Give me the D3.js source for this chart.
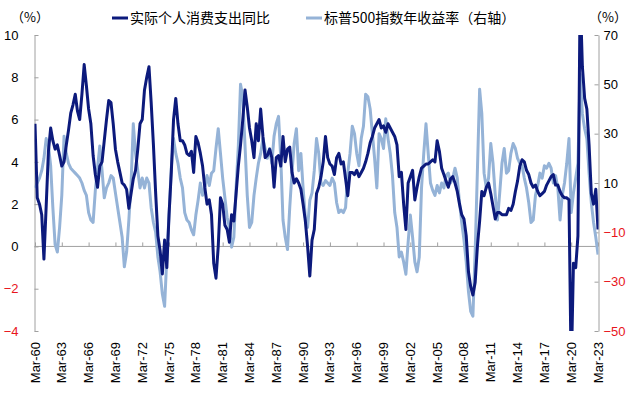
<!DOCTYPE html>
<html><head><meta charset="utf-8">
<script src="https://cdn.jsdelivr.net/npm/d3@7"></script>
<style>
html,body{margin:0;padding:0;background:#fff;}
svg{display:block;font-family:"Liberation Sans",Arial,"Noto Sans CJK SC",sans-serif;}
</style></head>
<body><svg id="c" width="640" height="393"></svg>
<script>
// Quarterly observations (Mar, Jun, Sep, Dec) from Mar-1960 to Mar-2023
const startYear = 1960;
const seriesNames = ["实际个人消费支出同比", "标普500指数年收益率（右轴）"];
// 实际个人消费支出同比 (%), left axis
const pce = [
 5.8,2.3,2.0,1.5, -0.6,1.9,4.5,5.6, 5.0,4.6,4.8,4.3, 3.8,4.0,4.8,5.5,
 6.3,6.7,7.2,6.4, 6.0,7.2,8.6,7.6, 6.5,5.8,4.3,3.4, 2.8,3.8,4.0,5.0,
 6.0,6.9,6.8,5.8, 4.6,4.0,3.5,3.0, 2.9,2.7,1.8,2.5, 3.2,3.6,4.6,5.8,
 6.0,7.4,8.0,8.5, 6.8,4.8,2.5,0.5, -0.2,-1.3,0.3,-1.0, 1.5,3.5,6.0,7.0,
 5.8,5.0,5.0,4.8, 4.4,4.3,4.5,3.5, 5.2,4.9,4.4,3.8, 2.8,2.0,2.2,1.5,
 -0.8,-1.5,0.0,2.3, 2.0,1.0,0.8,0.2, 1.5,1.2,2.5,3.8, 4.8,6.0,7.4,6.6,
 5.6,5.0,4.2,5.8, 5.0,6.5,5.2,4.2, 4.3,4.6,4.2,2.8, 4.2,4.3,3.8,5.2,
 4.0,4.6,4.7,3.5, 3.0,3.2,3.0,2.7, 2.0,1.2,0.0,-1.4, 0.3,0.8,2.5,2.8,
 3.3,4.0,5.2,4.2, 3.9,3.8,3.4,4.2, 4.4,3.9,4.0,3.2, 2.4,3.5,3.5,3.4,
 3.6,3.3,3.5,3.7, 4.0,4.4,4.9,5.2, 5.6,5.8,6.0,5.6, 5.7,5.4,5.8,5.6,
 5.4,5.2,4.8,3.3, 3.5,2.0,0.8,3.0, 3.3,3.6,2.2,2.8, 3.3,3.7,3.8,3.9,
 3.9,4.0,4.1,4.0, 5.0,4.5,3.7,3.4, 3.1,2.8,3.2,3.3, 3.0,2.6,2.0,1.5,
 1.3,0.5,-1.2,-1.9, -2.3,-1.7,0.0,1.2, 2.6,2.4,2.8,3.0, 2.5,1.9,1.3,1.6,
 1.6,1.5,1.5,1.5, 1.8,1.7,2.0,2.6, 3.1,3.8,4.1,4.0, 3.6,3.4,3.0,2.8,
 2.9,2.6,2.4,2.5, 2.6,2.9,3.1,3.3, 3.4,2.9,2.9,2.6, 2.4,2.3,2.3,2.2,
 -6.0,-0.8,-1.0,0.5, 12.0,8.5,7.0,6.5, 4.8,2.5,2.0,2.7, 0.8
];
// 标普500指数年收益率 (%), right axis
const spx = [
 8,10,12,15, 20,28,25,17, 0,-15,-18,-8, 5,29,22,18,
 16,15,14,13, 12,10,7,5, -2,-5,-6,7, 16,25,15,4,
 8,10,13,12, 6,0,-6,-12, -24,-18,-5,10, 34,22,15,8,
 12,8,12,10, 0,-6,-10,-20, -26,-35,-40,-20, -3,16,28,22,
 18,12,8,-2, -5,-6,-9,-11, -3,3,10,5, 8,13,9,14,
 15,24,32,22, 12,4,-4,-8, -16,-12,8,25, 50,45,25,5,
 -8,-6,5,12, 18,22,28,24, 20,24,18,29, 34,37,20,-5,
 -12,-17,0,14, 26,32,15,22, 8,-4,-8,3, 6,15,28,22,
 10,9,11,10, 9,12,10,2, -2,-1,-2,0, 14,22,33,30,
 22,17,28,33, 46,45,40,30, 20,8,30,28, 24,36,28,22,
 13,-2,-8,-20, -18,-22,-27,-14, -3,-12,-22,-26, -20,8,22,34,
 22,10,7,5, 9,6,10,8, 13,14,10,12, 16,12,2,-6,
 -13,-22,-34,-42, -44,-18,15,48, 38,14,8,12, 26,18,5,-5,
 6,18,24,14, 15,22,26,24, 20,18,17,12, 8,2,-6,-5,
 5,9,14,12, 17,16,18,16, 10,13,8,-5, 5,10,18,28,
 -2,6,12,18, 54,38,32,28, 14,2,-6,-12, -19
];
const leftTicks = [-4,-2,0,2,4,6,8,10];
const rightTicks = [-50,-30,-10,10,30,50,70];
const tickYears = d3.range(1960, 2024, 3);

const dates = pce.map((_, i) => new Date(startYear, 2 + 3 * i, 1));
const svg = d3.select("#c");
const L = 34.5, R = 598.5, T = 35, B = 331;

const x = d3.scaleTime().domain([new Date(1960, 2, 1), new Date(2023, 2, 1)]).range([35, 598]);
const yL = d3.scaleLinear().domain([-4, 10]).range([B, T]);
const yR = d3.scaleLinear().domain([-50, 70]).range([B, T]);

const axisColor = "#a0a0a0";
const negColor = "#e8141c";

svg.append("defs").append("clipPath").attr("id", "clip")
  .append("rect").attr("x", L).attr("y", T).attr("width", R - L).attr("height", B - T);

// left axis
const gl = svg.append("g").attr("transform", `translate(${L},0)`)
  .call(d3.axisLeft(yL).tickValues(leftTicks).tickFormat(d3.format("d")).tickSizeInner(-4).tickSizeOuter(0).tickPadding(16));
// right axis
const gr = svg.append("g").attr("transform", `translate(${R},0)`)
  .call(d3.axisRight(yR).tickValues(rightTicks).tickFormat(d3.format("d")).tickSizeInner(-4).tickSizeOuter(0).tickPadding(5));
// zero line axis
const gx = svg.append("g").attr("transform", `translate(0,${yL(0)})`)
  .call(d3.axisBottom(x).tickValues(tickYears.map(y => new Date(y, 2, 1))).tickFormat("").tickSizeInner(-4).tickSizeOuter(0));
gx.select(".domain").attr("d", `M${L},0H${R}`);

[gl, gr, gx].forEach(g => {
  g.selectAll(".domain").attr("stroke", axisColor);
  g.selectAll(".tick line").attr("stroke", axisColor);
  g.selectAll("text").attr("font-size", 13).attr("font-family", '"Liberation Sans",Arial,sans-serif')
    .attr("fill", d => d < 0 ? negColor : "#000");
});

// rotated date labels at the bottom
const fmt = d3.timeFormat("%b-%y");
svg.append("g").selectAll("text").data(tickYears).join("text")
  .attr("transform", d => `translate(${x(new Date(d, 2, 1)) + 4.5},342) rotate(-90)`)
  .attr("text-anchor", "end")
  .attr("font-size", 13)
  .attr("fill", "#000")
  .text(d => fmt(new Date(d, 2, 1)));

// lines
const lineL = d3.line().x((d, i) => x(dates[i])).y(d => yL(d));
const lineR = d3.line().x((d, i) => x(dates[i])).y(d => yR(d));
const plot = svg.append("g").attr("clip-path", "url(#clip)");
plot.append("path").datum(spx).attr("d", lineR).attr("fill", "none")
  .attr("stroke", "#95b3d7").attr("stroke-width", 3).attr("stroke-linejoin", "round");
plot.append("path").datum(pce).attr("d", lineL).attr("fill", "none")
  .attr("stroke", "#0c1a7c").attr("stroke-width", 3).attr("stroke-linejoin", "round");

// unit labels
svg.append("text").attr("x", 30).attr("y", 22).attr("text-anchor", "middle").attr("font-size", 13)
  .attr("font-family", '"Noto Sans CJK SC",sans-serif').text("（%）");
svg.append("text").attr("x", 608).attr("y", 22).attr("text-anchor", "middle").attr("font-size", 13)
  .attr("font-family", '"Noto Sans CJK SC",sans-serif').text("（%）");

// legend
const legend = [
  { name: seriesNames[0], color: "#0c1a7c", x: 112 },
  { name: seriesNames[1], color: "#95b3d7", x: 306 }
];
const lg = svg.append("g").selectAll("g").data(legend).join("g")
  .attr("transform", d => `translate(${d.x},18)`);
lg.append("line").attr("x1", 0).attr("x2", 16).attr("y1", 0).attr("y2", 0)
  .attr("stroke", d => d.color).attr("stroke-width", 3);
lg.append("text").attr("x", 18).attr("y", 5).attr("font-size", 14)
  .attr("font-family", '"Noto Sans CJK SC",sans-serif').attr("fill", "#000").text(d => d.name);
</script></body></html>
